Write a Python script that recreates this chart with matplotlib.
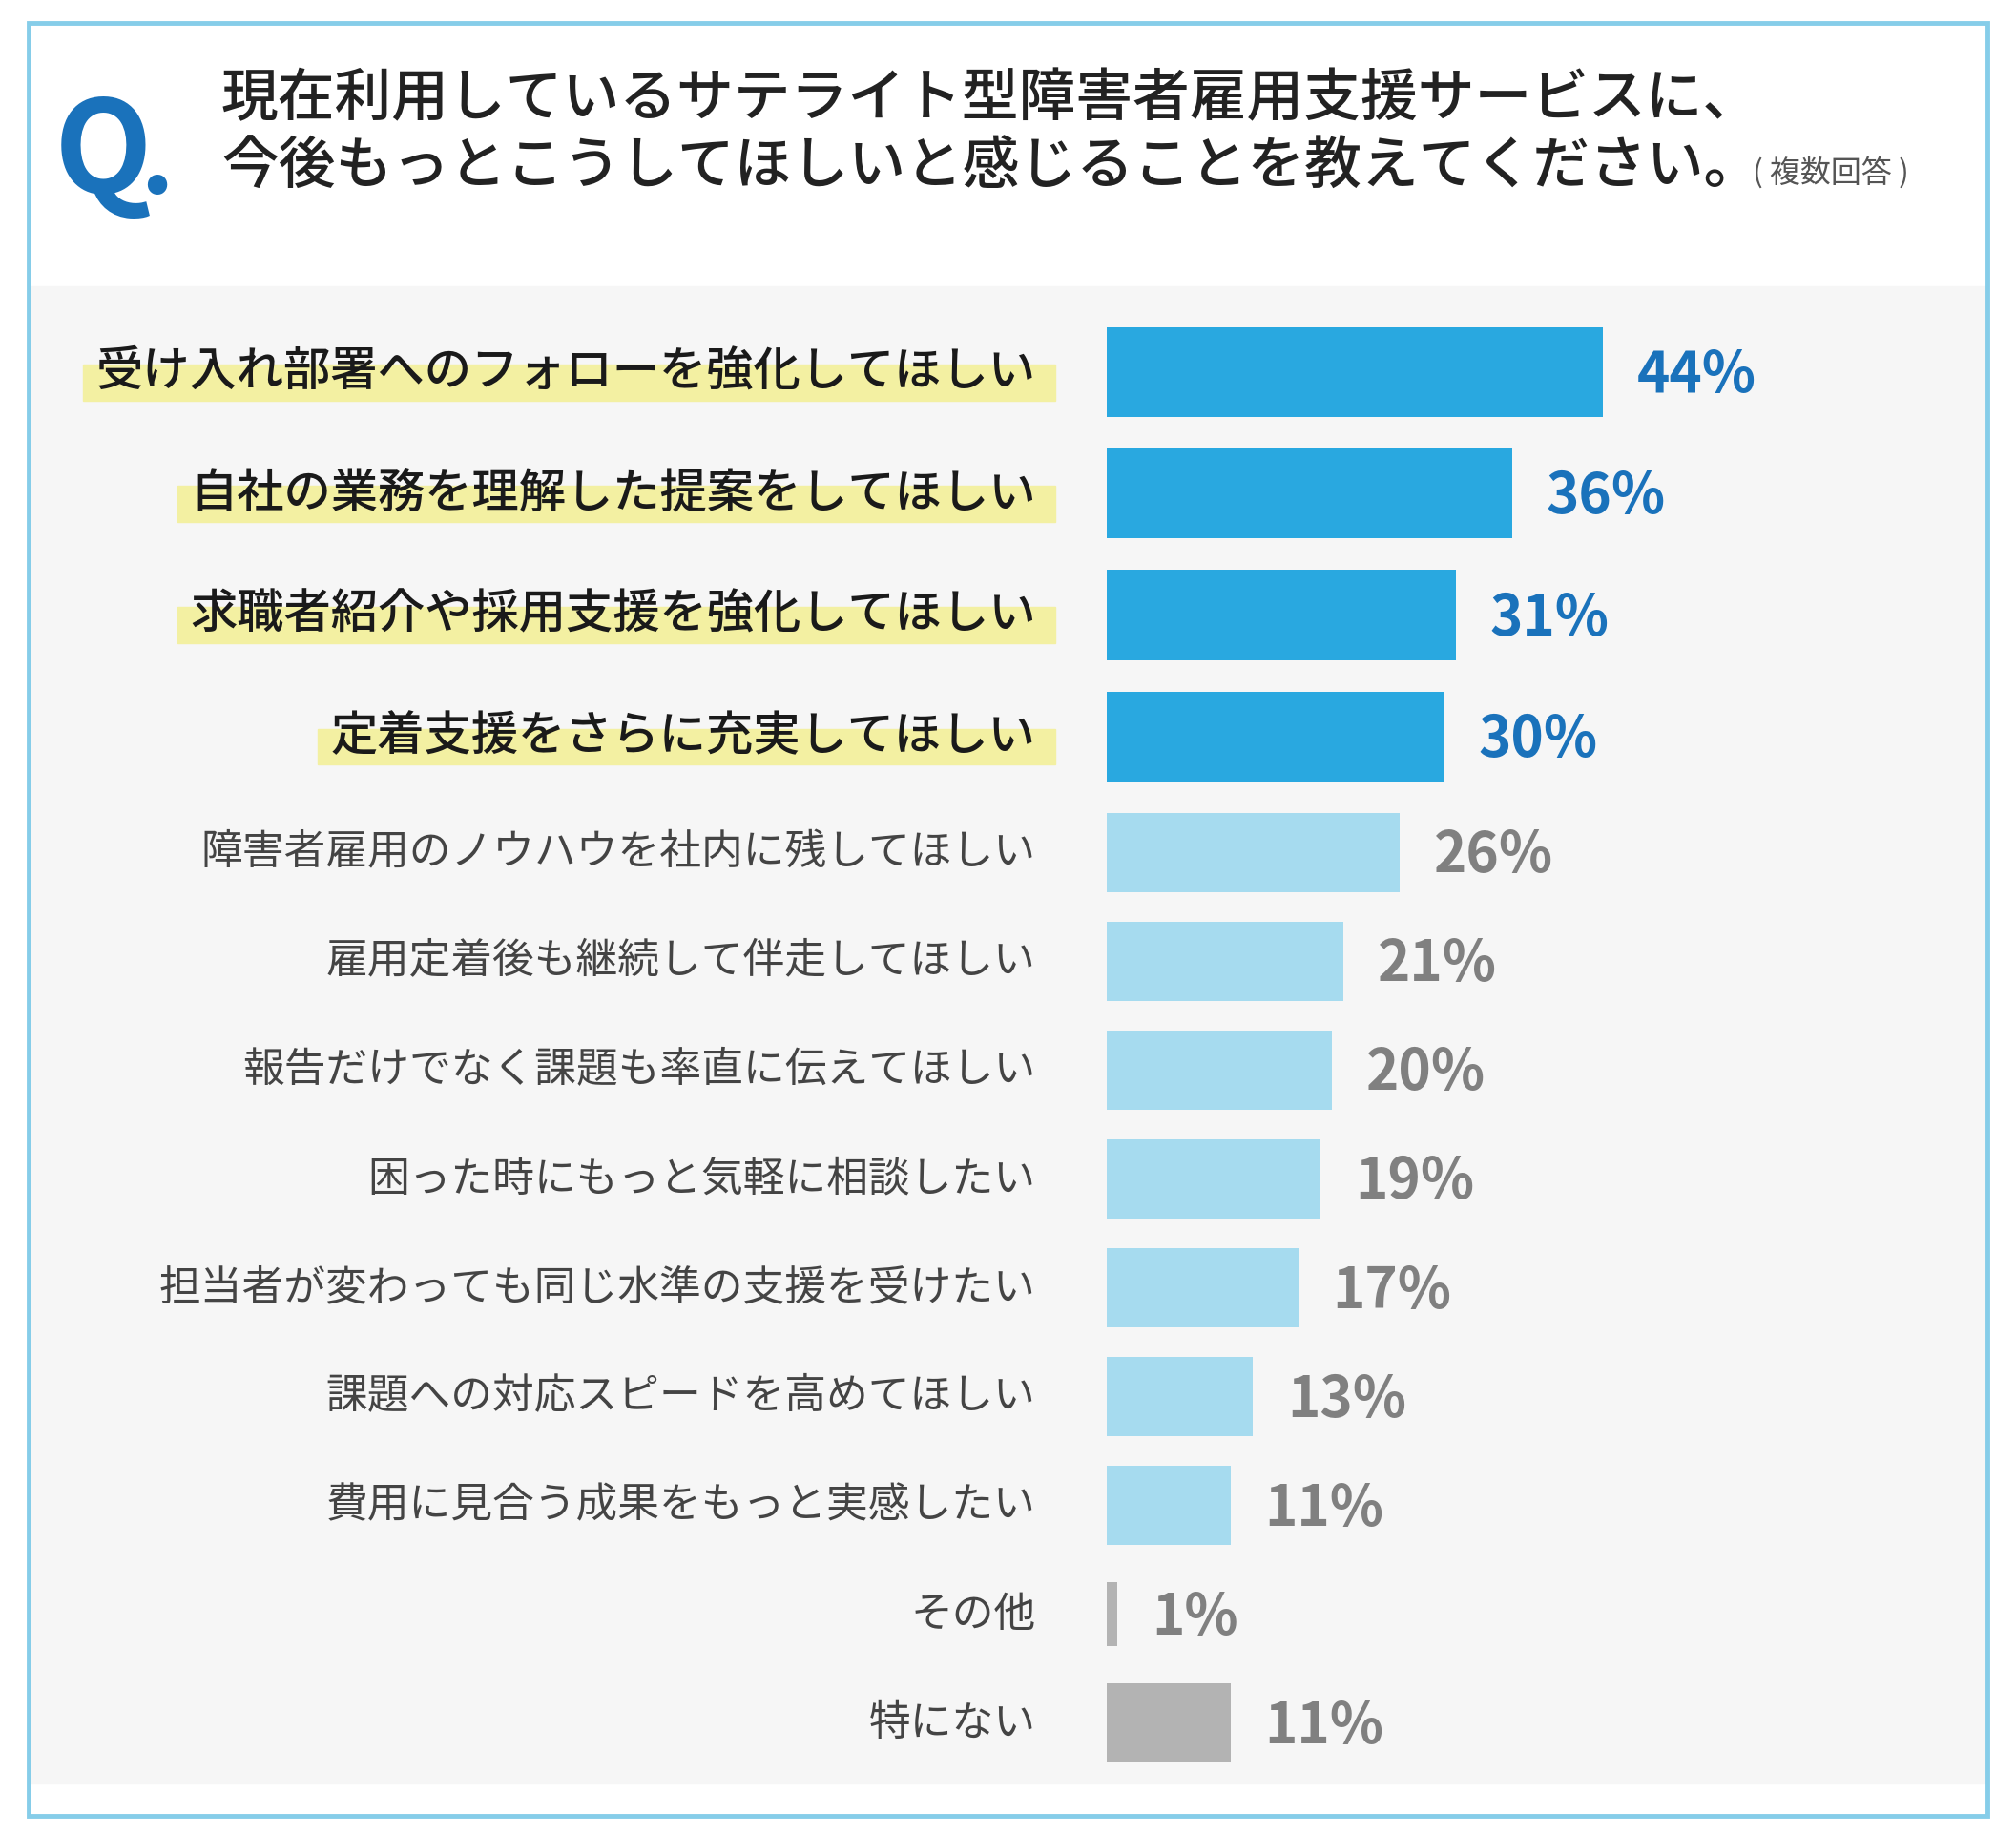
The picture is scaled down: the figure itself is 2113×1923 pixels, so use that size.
import matplotlib
matplotlib.use("Agg")
import matplotlib.pyplot as plt
from matplotlib.patches import Rectangle

plt.rcParams['font.family'] = ['Noto Sans CJK JP', 'DejaVu Sans']

categories = ["受け入れ部署へのフォローを強化してほしい", "自社の業務を理解した提案をしてほしい",
              "求職者紹介や採用支援を強化してほしい", "定着支援をさらに充実してほしい",
              "障害者雇用のノウハウを社内に残してほしい", "雇用定着後も継続して伴走してほしい",
              "報告だけでなく課題も率直に伝えてほしい", "困った時にもっと気軽に相談したい",
              "担当者が変わっても同じ水準の支援を受けたい", "課題への対応スピードを高めてほしい",
              "費用に見合う成果をもっと実感したい", "その他", "特にない"]
values = [44, 36, 31, 30, 26, 21, 20, 19, 17, 13, 11, 1, 11]
title1 = "現在利用しているサテライト型障害者雇用支援サービスに、"
title2 = "今後もっとこうしてほしいと感じることを教えてください。"
note = "( 複数回答 )"

W, H = 1567, 1425
fig = plt.figure(figsize=(21.13, 19.23), dpi=100)
ov = fig.add_axes([0, 0, 1, 1])
ov.set_xlim(0, W); ov.set_ylim(H, 0); ov.axis('off')
ov.add_patch(Rectangle((22, 222), 1545 - 22, 1385 - 222, color='#f6f6f6', zorder=0))
ov.add_patch(Rectangle((22, 18), 1523, 1392, fill=False, ec='#86cde9', lw=3.5, zorder=5))

ov.text(42, 150, "Q", color='#1a72bb', fontsize=96, fontweight='bold', ha='left', va='baseline')
ov.text(108, 150, ".", color='#1a72bb', fontsize=80, fontweight='bold', ha='left', va='baseline')
ov.text(172, 77, title1, fontsize=43, fontweight='medium', va='center', color='#222222')
ov.text(172, 130, title2, fontsize=43, fontweight='medium', va='center', color='#222222')
ov.text(1362, 134, note, fontsize=23, va='center', color='#555555')

# row positions (layout)
ys = []
for i in range(len(values)):
    ys.append(289 + 94.3 * i if i < 4 else 662 + 84.5 * (i - 4))
heights = [70] * 4 + [61] * 7 + [50, 61]
colors = ['#29a8e0'] * 4 + ['#a6dbef'] * 7 + ['#b3b3b3'] * 2
pcol = ['#1a72bb'] * 4 + ['#808080'] * 9

fig.canvas.draw()
r = fig.canvas.get_renderer()
inv = ov.transData.inverted()
for i, (c, y) in enumerate(zip(categories, ys)):
    top = i < 4
    t = ov.text(805, y, c, ha='right', va='center', fontsize=35.5 if top else 31.5,
                fontweight='medium' if top else 'normal', color='#1a1a1a' if top else '#444444', zorder=3)
    if top:
        bb = t.get_window_extent(r)
        x0 = inv.transform((bb.x0, 0))[0]
        ov.add_patch(Rectangle((x0 - 10, y - 6), 820 - x0 + 10, 28, color='#f3f0a2', zorder=2))

bx = fig.add_axes([860 / W, 0, (W - 860) / W, 1])
bx.set_xlim(0, (W - 860) / 8.77); bx.set_ylim(H, 0); bx.axis('off')
bx.barh(ys, values, height=heights, color=colors)
for v, y, pc in zip(values, ys, pcol):
    bx.text(v + 3, y + 3, f"{v}%", ha='left', va='center', fontsize=42,
            fontweight='bold', color=pc)

fig.savefig("out.png", dpi=100)
